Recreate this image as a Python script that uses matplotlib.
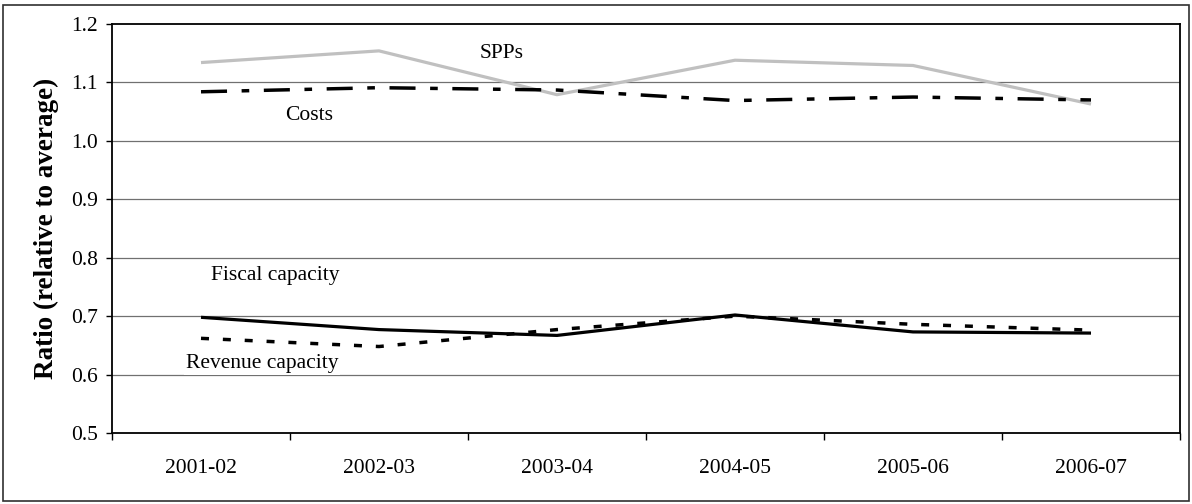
import matplotlib
matplotlib.use("Agg")
import matplotlib.pyplot as plt
from matplotlib.patches import Rectangle
from matplotlib.ticker import FixedLocator, NullFormatter, FixedFormatter

plt.rcParams['font.family'] = ['Liberation Serif', 'DejaVu Serif']

years = ["2001-02", "2002-03", "2003-04", "2004-05", "2005-06", "2006-07"]
spps = [1.134, 1.154, 1.079, 1.138, 1.129, 1.063]
costs = [1.084, 1.091, 1.087, 1.069, 1.075, 1.070]
fiscal = [0.698, 0.677, 0.667, 0.702, 0.673, 0.671]
revenue = [0.662, 0.648, 0.677, 0.700, 0.686, 0.676]
yticks = [0.5, 0.6, 0.7, 0.8, 0.9, 1.0, 1.1, 1.2]

W, H = 1192, 504
fig = plt.figure(figsize=(W / 100, H / 100), dpi=100)
ax = fig.add_axes([112 / W, 1 - 433 / H, (1180 - 112) / W, (433 - 24) / H])

x = list(range(len(years)))
for yv in yticks[1:-1]:
    ax.axhline(yv, color='#707070', lw=0.9, zorder=1)

ax.plot(x, spps, color='#c0c0c0', lw=2.3, solid_capstyle='butt', zorder=3)
ax.plot(x, costs, color='black', lw=2.5, dashes=(7.5, 4.2, 2.2, 4.2),
        dash_capstyle='butt', zorder=3)
ax.plot(x, fiscal, color='black', lw=2.3, solid_capstyle='butt', zorder=4)
ax.plot(x, revenue, color='black', lw=2.5, dashes=(2.3, 4.0),
        dash_capstyle='butt', zorder=3)

ax.set_xlim(-0.5, len(years) - 0.5)
ax.set_ylim(0.5, 1.2)
ax.set_yticks(yticks)
ax.set_yticklabels([f"{v:.1f}" for v in yticks])

ax.xaxis.set_major_locator(FixedLocator([i - 0.5 for i in range(len(years) + 1)]))
ax.xaxis.set_major_formatter(NullFormatter())
ax.xaxis.set_minor_locator(FixedLocator(x))
ax.xaxis.set_minor_formatter(FixedFormatter(years))
ax.tick_params(axis='x', which='major', direction='out', length=5, width=1, color='black')
ax.tick_params(axis='x', which='minor', length=0, pad=19, labelsize=15.5)
ax.tick_params(axis='y', direction='out', length=4, width=1, pad=6, labelsize=15.5)

for s in ax.spines.values():
    s.set_linewidth(1.3)
    s.set_color('black')

ax.set_ylabel("Ratio (relative to average)", fontsize=19.5, fontweight='bold', labelpad=9)

ax.text(1.69, 1.150, "SPPs", fontsize=15.5, ha='center', va='center', zorder=5)
ax.text(0.61, 1.043, "Costs", fontsize=15.5, ha='center', va='center', zorder=5)
ax.text(0.416, 0.770, "Fiscal capacity", fontsize=15.5, ha='center', va='center', zorder=5)
ax.text(0.343, 0.619, "Revenue capacity", fontsize=15.5, ha='center', va='center', zorder=5,
        bbox=dict(facecolor='white', edgecolor='none', pad=1.5))

fig.patches.append(Rectangle((3 / W, 3 / H), (1189 - 3) / W, (499 - 3) / H,
                             transform=fig.transFigure, fill=False,
                             edgecolor='#303030', lw=1.2))

fig.savefig("out.png", dpi=100)
